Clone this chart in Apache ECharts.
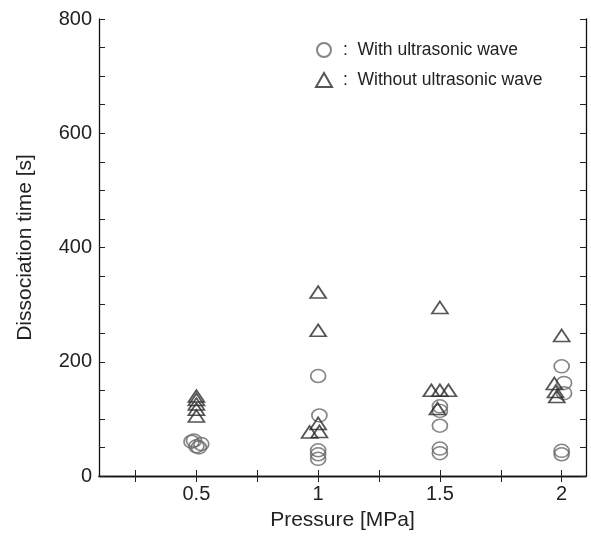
<!DOCTYPE html>
<html>
<head>
<meta charset="utf-8">
<script src="https://cdn.jsdelivr.net/npm/echarts@6/dist/echarts.min.js"></script>
<style>
html,body{margin:0;padding:0;background:#fff;}
#c{width:591px;height:542px;}
</style>
</head>
<body>
<div id="c"></div>
<script>
// Tick values
const xTicks = [0.25, 0.5, 0.75, 1, 1.25, 1.5, 1.75, 2];
const xLabels = [0.5, 1, 1.5, 2];
const yLabelStep = 200;

// Series: [pressure (MPa), dissociation time (s)]
const withUltrasonic = [
  [0.48, 60], [0.50, 52], [0.52, 56], [0.49, 62], [0.51, 50],
  [1.00, 175], [1.005, 106], [1.00, 45], [1.00, 38], [1.00, 30],
  [1.50, 122], [1.50, 114], [1.50, 88], [1.50, 48], [1.50, 40],
  [2.00, 192], [2.01, 163], [2.01, 145], [2.00, 44], [2.00, 38]
];
const withoutUltrasonic = [
  [0.50, 140], [0.50, 134], [0.50, 126], [0.50, 117], [0.50, 105],
  [1.00, 322], [1.00, 255], [1.00, 92], [0.965, 77], [1.005, 78],
  [1.50, 295], [1.465, 150], [1.50, 150], [1.535, 150], [1.49, 118],
  [2.00, 246], [1.97, 162], [1.975, 148], [1.98, 139]
];
const seriesNames = ['With ultrasonic wave', 'Without ultrasonic wave'];

const font = 'Liberation Sans, Arial, Helvetica, sans-serif';
const chart = echarts.init(document.getElementById('c'));
const axisLine = {show: true, lineStyle: {color: '#111', width: 1.3}};
const tick = {show: true, inside: true, length: 6, lineStyle: {color: '#222', width: 1}};

chart.setOption({
  backgroundColor: '#fff',
  animation: false,
  grid: {left: 99, right: 5, top: 19, bottom: 66},
  legend: {
    orient: 'vertical', left: 310, top: 36,
    itemWidth: 16, itemHeight: 14, itemGap: 12,
    formatter: n => ':  ' + n,
    textStyle: {fontFamily: font, fontSize: 17.5, color: '#222', padding: [0, 0, 0, 6]},
    data: seriesNames
  },
  xAxis: [{
    type: 'value', min: 0.1, max: 2.1, position: 'bottom',
    axisLine: axisLine,
    axisTick: Object.assign({customValues: xTicks}, tick),
    axisLabel: {customValues: xLabels, fontFamily: font, fontSize: 20, color: '#222', margin: 8},
    splitLine: {show: false},
    name: 'Pressure [MPa]', nameLocation: 'middle', nameGap: 34,
    nameTextStyle: {fontFamily: font, fontSize: 21, color: '#222'}
  }, {
    type: 'value', min: 0.1, max: 2.1, position: 'top',
    axisLine: axisLine,
    axisTick: Object.assign({customValues: xTicks}, tick),
    axisLabel: {show: false}, splitLine: {show: false}
  }],
  yAxis: [{
    type: 'value', min: 0, max: 800, interval: 50, position: 'left',
    axisLine: axisLine, axisTick: tick,
    axisLabel: {fontFamily: font, fontSize: 20, color: '#222', margin: 7,
      formatter: v => (v % yLabelStep === 0 ? String(v) : '')},
    splitLine: {show: false},
    name: 'Dissociation time [s]', nameLocation: 'middle', nameGap: 63,
    nameTextStyle: {fontFamily: font, fontSize: 21, color: '#222'}
  }, {
    type: 'value', min: 0, max: 800, interval: 50, position: 'right',
    axisLine: axisLine, axisTick: tick,
    axisLabel: {show: false}, splitLine: {show: false}
  }],
  series: [{
    name: seriesNames[0], type: 'scatter', data: withUltrasonic,
    symbol: 'circle', symbolSize: [15, 13],
    itemStyle: {color: 'rgba(255,255,255,0)', borderColor: '#666', borderWidth: 1.6}
  }, {
    name: seriesNames[1], type: 'scatter', data: withoutUltrasonic,
    symbol: 'triangle', symbolSize: [16, 12],
    itemStyle: {color: 'rgba(255,255,255,0)', borderColor: '#2a2a2a', borderWidth: 1.7}
  }]
});
</script>
</body>
</html>
